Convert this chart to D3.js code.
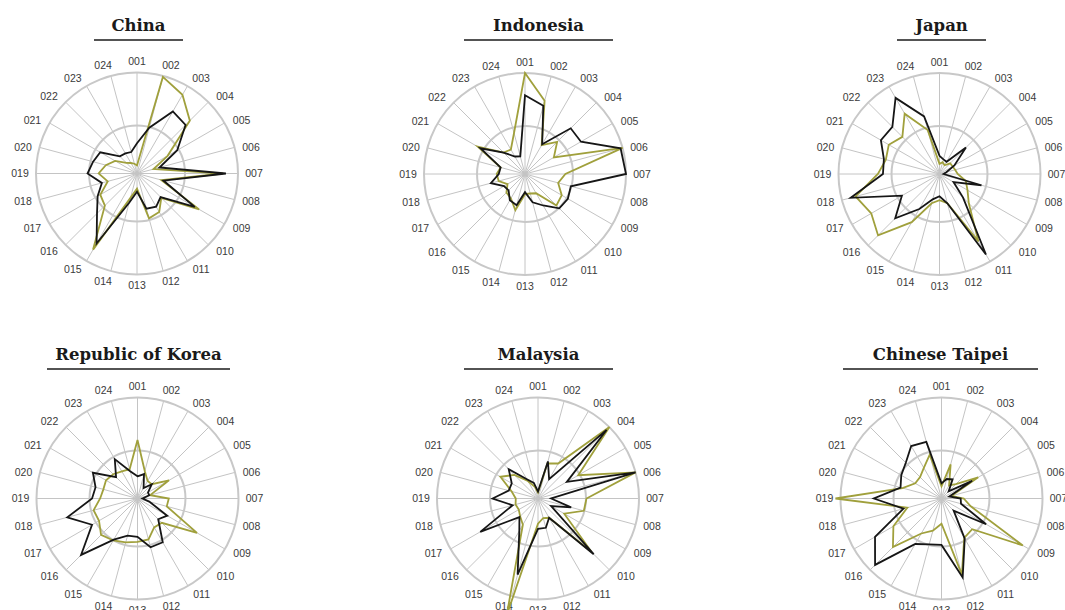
<!DOCTYPE html>
<html>
<head>
<meta charset="utf-8">
<script src="https://cdn.jsdelivr.net/npm/d3@7"></script>
<style>
  html, body { margin: 0; padding: 0; background: #fff; }
  svg { display: block; }
</style>
</head>
<body>
<svg id="chart" width="1065" height="610"></svg>
<script>
// Axis labels around every radar
const axisLabels = ["001","002","003","004","005","006","007","008","009","010","011","012",
                    "013","014","015","016","017","018","019","020","021","022","023","024"];

// Panel titles
const economies = ["China", "Indonesia", "Japan", "Republic of Korea", "Malaysia", "Chinese Taipei"];

// Two series per economy: dark line and olive line (share, 0–1 of outer ring)
const chinaDark      = [0.30,0.47,0.71,0.68,0.46,0.23,0.88,0.27,0.66,0.33,0.38,0.36,0.18,0.30,0.80,0.56,0.45,0.36,0.49,0.45,0.42,0.24,0.23,0.22];
const chinaOlive     = [0.08,0.99,0.90,0.74,0.35,0.17,0.85,0.25,0.71,0.34,0.44,0.46,0.15,0.25,0.87,0.45,0.42,0.30,0.38,0.32,0.25,0.15,0.12,0.10];
const indonesiaDark  = [0.78,0.70,0.34,0.64,0.64,0.98,1.00,0.47,0.49,0.48,0.36,0.29,0.18,0.32,0.30,0.23,0.24,0.35,0.26,0.25,0.51,0.30,0.20,0.18];
const indonesiaOlive = [1.00,0.75,0.33,0.45,0.33,1.00,0.40,0.34,0.42,0.44,0.22,0.20,0.20,0.37,0.28,0.26,0.20,0.27,0.28,0.25,0.54,0.30,0.28,0.42];
const japanDark      = [0.18,0.15,0.14,0.37,0.17,0.07,0.04,0.43,0.16,0.33,0.92,0.30,0.22,0.26,0.40,0.62,0.43,0.91,0.56,0.57,0.67,0.66,0.87,0.59];
const japanOlive     = [0.10,0.12,0.10,0.15,0.15,0.16,0.18,0.27,0.32,0.41,0.77,0.30,0.26,0.30,0.55,0.86,0.78,0.86,0.61,0.55,0.58,0.52,0.69,0.45];
const koreaDark      = [0.22,0.25,0.12,0.20,0.12,0.12,0.05,0.12,0.34,0.29,0.50,0.50,0.38,0.38,0.47,0.79,0.52,0.72,0.45,0.43,0.51,0.30,0.45,0.28];
const koreaOlive     = [0.58,0.28,0.20,0.20,0.36,0.13,0.31,0.30,0.68,0.34,0.33,0.42,0.43,0.45,0.48,0.51,0.44,0.45,0.37,0.35,0.36,0.34,0.31,0.30];
const malaysiaDark   = [0.07,0.38,0.22,0.96,0.33,1.00,0.13,0.34,0.15,0.78,0.22,0.30,0.30,0.78,0.37,0.26,0.66,0.26,0.45,0.30,0.30,0.41,0.22,0.16];
const malaysiaOlive  = [0.06,0.36,0.40,1.00,0.46,1.00,0.48,0.47,0.30,0.75,0.22,0.20,0.25,1.20,0.30,0.25,0.22,0.23,0.22,0.27,0.43,0.33,0.20,0.12];
const taipeiDark     = [0.15,0.20,0.22,0.10,0.35,0.08,0.19,0.20,0.51,0.17,0.46,0.81,0.46,0.47,0.52,0.93,0.76,0.39,0.67,0.42,0.46,0.50,0.60,0.58];
const taipeiOlive    = [0.12,0.35,0.15,0.20,0.42,0.10,0.22,0.30,0.93,0.43,0.45,0.78,0.25,0.33,0.40,0.68,0.55,0.35,1.05,0.40,0.30,0.30,0.35,0.45];

// Ring positions (as a share of the outer ring)
const ringValues = [0.475, 1];

const seriesByEconomy = [
  [chinaOlive, chinaDark],
  [indonesiaOlive, indonesiaDark],
  [japanOlive, japanDark],
  [koreaOlive, koreaDark],
  [malaysiaOlive, malaysiaDark],
  [taipeiOlive, taipeiDark]
];

// Page layout: radar centres, title centres and underline widths
const layout = [
  { cx: 137,   cy: 173.5, tx: 138.5, ty: 31,  ul: 89  },
  { cx: 525,   cy: 174,   tx: 538.5, ty: 31,  ul: 149 },
  { cx: 939.5, cy: 174,   tx: 941.5, ty: 31,  ul: 89  },
  { cx: 137.5, cy: 498.5, tx: 138.5, ty: 360, ul: 183 },
  { cx: 538,   cy: 498.5, tx: 538.5, ty: 360, ul: 149 },
  { cx: 941.5, cy: 498.5, tx: 940.5, ty: 360, ul: 195 }
];

const R = 101;
const lineColors = ["#a0a03c", "#161616"];

const svg = d3.select("#chart");
const r = d3.scaleLinear().domain([0, 1]).range([0, R]);
const angle = d3.scaleLinear().domain([0, axisLabels.length]).range([0, 2 * Math.PI]);

const radial = d3.lineRadial()
  .angle((d, i) => angle(i))
  .radius(d => r(d))
  .curve(d3.curveLinearClosed);

economies.forEach((name, p) => {
  const L = layout[p];

  // Title with rule underneath
  svg.append("text")
    .attr("x", L.tx).attr("y", L.ty)
    .attr("text-anchor", "middle")
    .attr("font-family", "'DejaVu Serif', serif")
    .attr("font-weight", "bold")
    .attr("font-size", 16.5)
    .attr("fill", "#1a1a1a")
    .text(name);
  svg.append("line")
    .attr("x1", L.tx - L.ul / 2).attr("x2", L.tx + L.ul / 2)
    .attr("y1", L.ty + 9).attr("y2", L.ty + 9)
    .attr("stroke", "#1a1a1a").attr("stroke-width", 1.6);

  const g = svg.append("g").attr("transform", `translate(${L.cx},${L.cy})`);

  // Spokes
  g.selectAll("line.spoke").data(axisLabels).join("line")
    .attr("class", "spoke")
    .attr("x1", 0).attr("y1", 0)
    .attr("x2", (d, i) => r(1) * Math.sin(angle(i)))
    .attr("y2", (d, i) => -r(1) * Math.cos(angle(i)))
    .attr("stroke", "#c4c4c4").attr("stroke-width", 1);

  // Rings
  g.selectAll("circle.ring").data(ringValues).join("circle")
    .attr("class", "ring")
    .attr("r", d => r(d))
    .attr("fill", "none")
    .attr("stroke", "#c8c8c8").attr("stroke-width", 2);

  // Axis labels
  g.selectAll("text.axis").data(axisLabels).join("text")
    .attr("class", "axis")
    .attr("x", (d, i) => { const s = Math.sin(angle(i)); return s * (132 - 15 * s * s); })
    .attr("y", (d, i) => {
      const c = Math.cos(angle(i));
      return c > 0 ? -c * (100 + 12 * c) : -c * (106 + 6 * Math.abs(c));
    })
    .attr("dy", "0.35em")
    .attr("text-anchor", "middle")
    .attr("font-family", "'Liberation Sans', Arial, sans-serif")
    .attr("font-size", 10.5)
    .attr("fill", "#3a3a3a")
    .text(d => d);

  // Series outlines
  g.selectAll("path.series").data(seriesByEconomy[p]).join("path")
    .attr("class", "series")
    .attr("d", d => radial(d))
    .attr("fill", "none")
    .attr("stroke", (d, i) => lineColors[i])
    .attr("stroke-width", 1.8)
    .attr("stroke-linejoin", "miter");
});
</script>
</body>
</html>
